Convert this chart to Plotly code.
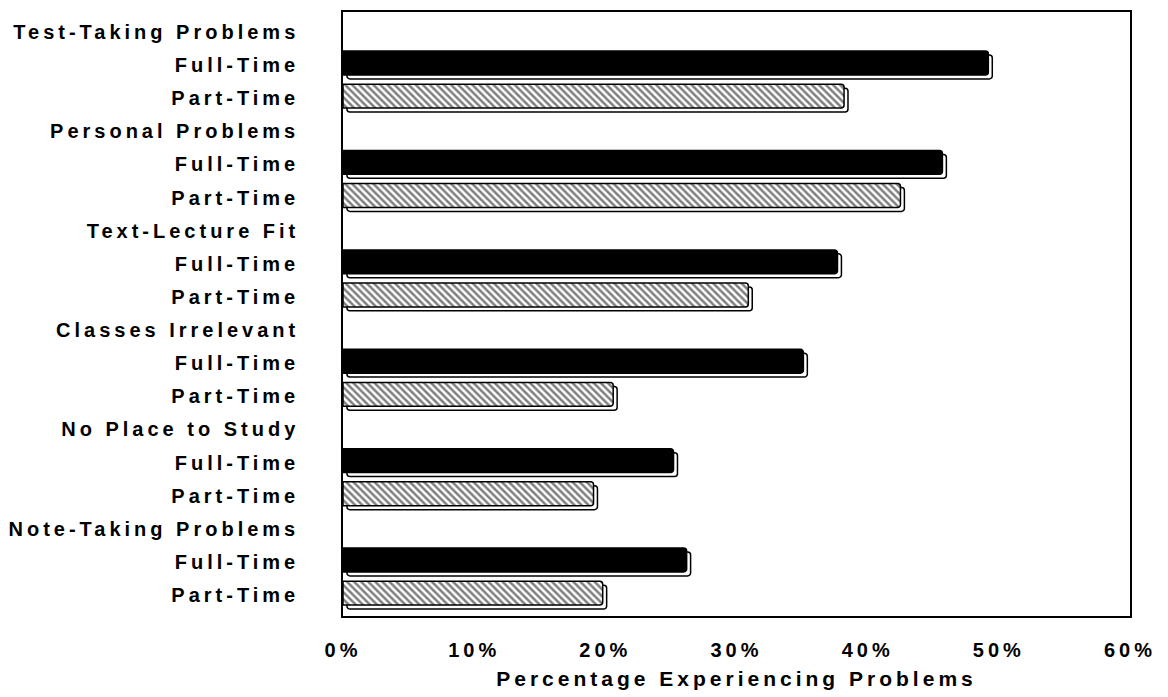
import plotly.graph_objects as go

# Problem areas, each with a Full-Time and a Part-Time bar
groups = [
    "Test-Taking Problems",
    "Personal Problems",
    "Text-Lecture Fit",
    "Classes Irrelevant",
    "No Place to Study",
    "Note-Taking Problems",
]
full_time = [49.2, 45.7, 37.7, 35.1, 25.2, 26.2]
part_time = [38.2, 42.5, 30.9, 20.6, 19.1, 19.8]
x_ticks = [0, 10, 20, 30, 40, 50, 60]
x_tick_labels = ["0%", "10%", "20%", "30%", "40%", "50%", "60%"]

# Each group uses three rows: header, Full-Time, Part-Time
row_pos, row_text = [], []
ft_rows, pt_rows = [], []
for i, g in enumerate(groups):
    row_pos += [3 * i, 3 * i + 1, 3 * i + 2]
    row_text += [g, "Full-Time", "Part-Time"]
    ft_rows.append(3 * i + 1)
    pt_rows.append(3 * i + 2)

BAR_W = 0.72
BAR_DY = -0.06     # bars sit slightly above the label line
SHADOW_DY = 0.06   # drop shadow sits slightly below it
SHADOW_DX = 0.3    # drop-shadow offset in percent units

fig = go.Figure()

# drop shadows behind the bars
for rows, vals in ((ft_rows, full_time), (pt_rows, part_time)):
    fig.add_trace(go.Bar(
        orientation="h",
        y=[r + SHADOW_DY for r in rows],
        x=vals,
        base=[SHADOW_DX] * len(vals),
        width=BAR_W,
        marker=dict(color="white", line=dict(color="black", width=1.5), cornerradius=3),
        hoverinfo="skip",
        showlegend=False,
    ))

fig.add_trace(go.Bar(
    orientation="h",
    y=[r + BAR_DY for r in ft_rows],
    x=full_time,
    width=BAR_W,
    name="Full-Time",
    marker=dict(color="black", line=dict(color="black", width=1.5), cornerradius=3),
    showlegend=False,
))

fig.add_trace(go.Bar(
    orientation="h",
    y=[r + BAR_DY for r in pt_rows],
    x=part_time,
    width=BAR_W,
    name="Part-Time",
    marker=dict(
        color="white",
        line=dict(color="black", width=1.5),
        cornerradius=3,
        pattern=dict(shape="\\", fgcolor="black", bgcolor="white", size=5, solidity=0.5),
    ),
    showlegend=False,
))

label_font = dict(family="Liberation Sans", size=20, color="black", weight="bold")

fig.update_layout(
    width=1168,
    height=697,
    barmode="overlay",
    plot_bgcolor="white",
    paper_bgcolor="white",
    margin=dict(l=343, r=38, t=10, b=77),
    font=label_font,
    xaxis=dict(
        range=[0, 60],
        tickvals=x_ticks,
        ticktext=x_tick_labels,
        showgrid=False,
        zeroline=False,
        showline=True,
        mirror=True,
        linecolor="black",
        linewidth=1.5,
        ticks="",
        ticklabelstandoff=15,
        tickfont=label_font,
        title=dict(text="Percentage Experiencing Problems",
                   font=dict(family="Liberation Sans", size=21, color="black", weight="bold"),
                   standoff=12),
    ),
    yaxis=dict(
        range=[17.63, -0.6],
        tickvals=row_pos,
        ticktext=row_text,
        showgrid=False,
        zeroline=False,
        showline=True,
        mirror=True,
        linecolor="black",
        linewidth=1.5,
        ticks="",
        ticklabelstandoff=38,
        tickfont=label_font,
    ),
)

# widen the letter spacing of the axis text
spacing_js = """
var gd = document.getElementById('{plot_id}');
gd.querySelectorAll('.ytick text, .xtick text, .g-xtitle text').forEach(function (t) {
    t.style.letterSpacing = '4px';
});
"""

fig.write_html("out.html", post_script=spacing_js)
